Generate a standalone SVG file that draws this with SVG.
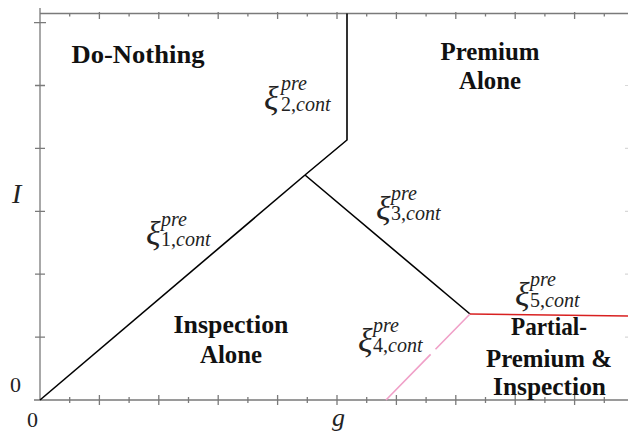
<svg xmlns="http://www.w3.org/2000/svg" width="628" height="437" viewBox="0 0 628 437" font-family="Liberation Serif">
<style>
.ax{stroke:#7a7a7a;stroke-width:1.3;fill:none}
.bd{stroke:#000;stroke-width:1.6;fill:none}
.rg{font-weight:bold;font-size:25px;fill:#111;text-anchor:middle}
.xi{font-style:italic;font-size:34px;fill:#222}
.sc{font-size:20px;fill:#222}
.it{font-style:italic}
.lb{fill:#222}
</style>
<g id="axes">
<path class="ax" d="M40 8V400M34 400H628M40 13.5H628"/>
<path class="ax" d="M99.4 12V19M158.8 12V19M218.2 12V19M277.6 12V19M337 12V19M396.4 12V19M455.8 12V19M515.2 12V19M574.6 12V19"/>
<path class="ax" d="M69.7 13V16.5M129.1 13V16.5M188.5 13V16.5M247.9 13V16.5M307.3 13V16.5M366.7 13V16.5M426.1 13V16.5M485.5 13V16.5M544.9 13V16.5M604.3 13V16.5"/>
<path class="ax" d="M99.4 395V405M158.8 395V405M218.2 395V405M277.6 395V405M337 395V405M396.4 395V405M455.8 395V405M515.2 395V405M574.6 395V405"/>
<path class="ax" d="M69.7 397V403M129.1 397V403M188.5 397V403M247.9 397V403M307.3 397V403M366.7 397V403M426.1 397V403M485.5 397V403M544.9 397V403M604.3 397V403"/>
<path class="ax" d="M34 22.6H46M35 85.5H45M35 148.4H45M35 211.3H45M35 274.2H45M35 337.1H45"/>
<path stroke="#d8d8d8" stroke-width="1.2" d="M625 85.5H628M625 148.4H628M625 211.3H628M625 274.2H628M625 337.1H628"/>
<text class="lb it" x="12" y="203" font-size="28" font-family="Liberation Serif">I</text>
<text class="lb" x="10" y="392" font-size="22" font-family="Liberation Serif">0</text>
<text class="lb" x="27" y="427" font-size="22" font-family="Liberation Serif">0</text>
<text class="lb it" x="332" y="426" font-size="26" font-family="Liberation Serif">g</text>
</g>
<g id="connectors">
<path class="bd" d="M40 400L305 175"/>
<path class="bd" d="M305 175L347 140V13.5"/>
<path class="bd" d="M305 175L470 314"/>
<path stroke="#f0a0c8" stroke-width="1.6" fill="none" d="M470 314L435.5 349.3M430.6 354.4L386 400"/>
<path stroke="#d82020" stroke-width="1.6" fill="none" d="M470 314L628 316"/>
</g>
<g font-family="Liberation Serif">
<g id="do-nothing"><text class="rg" x="138" y="63" textLength="133" lengthAdjust="spacingAndGlyphs">Do-Nothing</text></g>
<g id="premium-alone"><text class="rg" x="490" y="60" textLength="99" lengthAdjust="spacingAndGlyphs">Premium</text><text class="rg" x="490" y="89" textLength="62" lengthAdjust="spacingAndGlyphs">Alone</text></g>
<g id="inspection-alone"><text class="rg" x="231" y="333" textLength="115" lengthAdjust="spacingAndGlyphs">Inspection</text><text class="rg" x="231" y="363" textLength="62" lengthAdjust="spacingAndGlyphs">Alone</text></g>
<g id="partial"><text class="rg" x="549" y="335" textLength="76" lengthAdjust="spacingAndGlyphs">Partial-</text><text class="rg" x="549" y="367" textLength="126" lengthAdjust="spacingAndGlyphs">Premium &amp;</text><text class="rg" x="549.5" y="395" textLength="113" lengthAdjust="spacingAndGlyphs">Inspection</text></g>
<g id="xi1"><text class="xi" x="146" y="245">ξ</text><text class="sc it" x="161" y="226">pre</text><text class="sc" x="161" y="246">1,<tspan class="it">cont</tspan></text></g>
<g id="xi2"><text class="xi" x="264" y="110">ξ</text><text class="sc it" x="281" y="90">pre</text><text class="sc" x="281" y="111">2,<tspan class="it">cont</tspan></text></g>
<g id="xi3"><text class="xi" x="376" y="220">ξ</text><text class="sc it" x="391" y="200">pre</text><text class="sc" x="391" y="220">3,<tspan class="it">cont</tspan></text></g>
<g id="xi4"><text class="xi" x="358" y="352">ξ</text><text class="sc it" x="373" y="332">pre</text><text class="sc" x="373" y="352">4,<tspan class="it">cont</tspan></text></g>
<g id="xi5"><text class="xi" x="515" y="306">ξ</text><text class="sc it" x="530" y="286">pre</text><text class="sc" x="530" y="307">5,<tspan class="it">cont</tspan></text></g>
</g>
</svg>
